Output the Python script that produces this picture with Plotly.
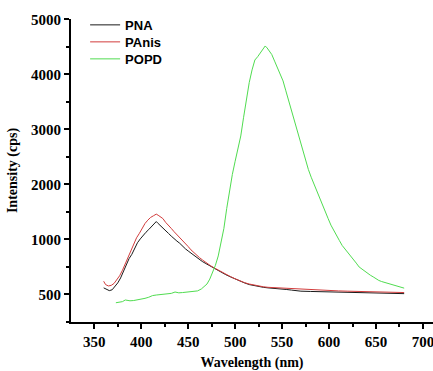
import plotly.graph_objects as go

# ---- data (wavelength in nm, intensity in plotted axis units) ----
pna_x = [360, 363, 366, 369, 372, 375, 378, 381, 384, 387, 390, 393, 396, 399, 402, 405, 408, 411, 414, 416,
         418, 420, 423, 426, 429, 432, 435, 438, 441, 444, 447, 450, 453, 456, 459, 462, 465, 468, 471, 474,
         477, 480, 485, 490, 495, 500, 505, 510, 515, 520, 525, 530, 535, 540, 545, 550, 555, 560, 570, 580,
         590, 600, 610, 620, 630, 640, 650, 660, 670, 680]
pna_y = [120, 90, 70, 85, 140, 210, 300, 420, 540, 650, 730, 840, 940, 1010, 1080, 1130, 1180, 1230, 1290, 1325,
         1290, 1260, 1210, 1160, 1110, 1060, 1010, 970, 930, 870, 830, 790, 750, 710, 670, 640, 600, 570, 540, 510,
         490, 460, 410, 360, 320, 280, 240, 210, 180, 160, 145, 130, 120, 115, 110, 100, 90, 80, 60, 55,
         50, 45, 40, 35, 30, 25, 25, 20, 15, 15]

panis_x = [360, 362, 365, 368, 371, 374, 377, 380, 383, 386, 389, 392, 395, 398, 401, 404, 407, 410, 413, 416,
           418, 420, 423, 426, 429, 432, 435, 438, 441, 444, 447, 450, 453, 456, 459, 462, 465, 468, 471, 474,
           477, 480, 485, 490, 495, 500, 505, 510, 515, 520, 525, 530, 535, 540, 545, 550, 555, 560, 570, 580,
           590, 600, 610, 620, 630, 640, 650, 660, 670, 680]
panis_y = [240, 180, 155, 165, 200, 260, 340, 440, 560, 680, 810, 920, 1030, 1110, 1200, 1290, 1350, 1400, 1430, 1460,
           1440, 1420, 1380, 1310, 1260, 1200, 1140, 1090, 1030, 980, 920, 870, 810, 760, 710, 670, 630, 590, 550, 520,
           490, 460, 415, 365, 325, 285, 245, 215, 190, 170, 155, 140, 130, 125, 120, 115, 110, 105, 95, 85,
           75, 70, 65, 60, 55, 50, 45, 40, 38, 35]

popd_x = [373, 376, 380, 383, 385, 388, 392, 396, 400, 404, 408, 412, 416, 420, 424, 428, 432, 436, 440, 444,
          448, 452, 456, 460, 464, 467, 470, 473, 476, 479, 482, 485, 488, 491, 494, 497, 500, 503, 506, 509,
          512, 515, 518, 521, 524, 527, 530, 532, 534, 536, 539, 542, 545, 548, 551, 554, 557, 560, 563, 566,
          569, 572, 575, 578, 581, 584, 587, 590, 593, 596, 599, 602, 605, 608, 611, 614, 617, 620, 623, 626,
          629, 632, 635, 638, 641, 644, 647, 650, 653, 656, 659, 662, 665, 668, 671, 674, 677, 680]
popd_y = [-150, -140, -130, -100, -110, -115, -110, -100, -90, -70, -50, -20, -10, -5, 0, 5, 20, 45, 30, 35,
          40, 45, 55, 65, 100, 140, 190, 280, 390, 530, 700, 920, 1200, 1560, 1900, 2180, 2420, 2640, 2880, 3220,
          3550, 3850, 4080, 4260, 4320, 4400, 4460, 4515, 4480, 4430, 4360, 4240, 4130, 4000, 3880, 3700, 3520, 3350, 3180, 2980,
          2790, 2590, 2440, 2270, 2130, 2000, 1870, 1740, 1620, 1490, 1380, 1260, 1160, 1060, 980, 890, 830, 760, 690, 630,
          570, 500, 460, 420, 380, 350, 320, 280, 255, 235, 220, 200, 190, 170, 150, 135, 125, 115]

x_ticks = [350, 400, 450, 500, 550, 600, 650, 700]
y_tickvals = [0, 1000, 2000, 3000, 4000, 5000]
y_ticktext = ["500", "1000", "2000", "3000", "4000", "5000"]

SERIF = "Liberation Serif"
SANS = "Liberation Sans"

fig = go.Figure()
fig.add_trace(go.Scatter(x=pna_x, y=pna_y, mode="lines", name="PNA", legend="legend",
                         line=dict(color="#1a1a1a", width=1)))
fig.add_trace(go.Scatter(x=panis_x, y=panis_y, mode="lines", name="PAnis", legend="legend2",
                         line=dict(color="#d23c3c", width=1)))
fig.add_trace(go.Scatter(x=popd_x, y=popd_y, mode="lines", name="POPD", legend="legend3",
                         line=dict(color="#50dc50", width=1)))

leg_font = dict(family=SANS, size=13, color="black", weight="bold")
def leg(ypos):
    return dict(x=0.039, y=ypos, xanchor="left", yanchor="top",
                bgcolor="rgba(0,0,0,0)", borderwidth=0, font=leg_font, itemwidth=30)

fig.update_layout(
    width=433, height=371,
    margin=dict(l=71, r=0, t=19, b=49),
    paper_bgcolor="white", plot_bgcolor="white",
    showlegend=True,
    legend=leg(1.03),
    legend2=leg(1.03 - 17 / 303),
    legend3=leg(1.03 - 34 / 303),
    xaxis=dict(range=[325.2, 710.7], showgrid=False, zeroline=False, automargin=False,
               showline=True, linecolor="black", linewidth=2,
               ticks="outside", ticklen=5, tickwidth=1.5, tickcolor="black",
               tickvals=x_ticks, ticklabeloverflow="allow",
               minor=dict(dtick=25, tick0=325, ticks="outside", ticklen=3, tickwidth=1.5, tickcolor="black"),
               tickfont=dict(family=SERIF, size=15, color="black", weight="bold"),
               title=dict(text="Wavelength (nm)", standoff=8,
                          font=dict(family=SERIF, size=14, color="black", weight="bold"))),
    yaxis=dict(range=[-500, 5005], showgrid=False, zeroline=False, automargin=False,
               showline=True, linecolor="black", linewidth=2,
               ticks="outside", ticklen=5, tickwidth=1.5, tickcolor="black",
               tickvals=y_tickvals, ticktext=y_ticktext, ticklabeloverflow="allow",
               minor=dict(dtick=500, tick0=0, ticks="outside", ticklen=3, tickwidth=1.5, tickcolor="black"),
               tickfont=dict(family=SERIF, size=15, color="black", weight="bold"),
               title=dict(text="Intensity (cps)", standoff=10,
                          font=dict(family=SERIF, size=14, color="black", weight="bold"))),
)

fig.write_html("out.html", config={"displayModeBar": False},
               post_script="document.body.style.margin='0';document.body.style.overflow='hidden';")
